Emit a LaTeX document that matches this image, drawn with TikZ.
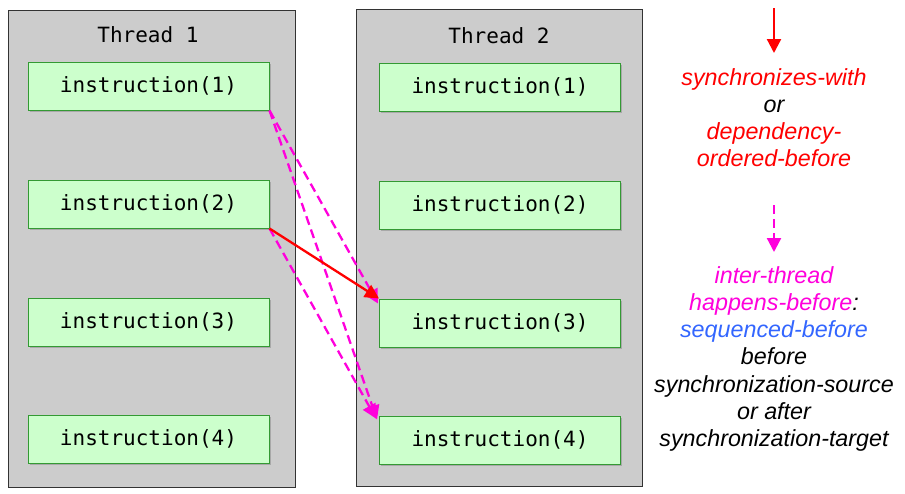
\documentclass[tikz,border=0pt]{standalone}
\usepackage{fontspec}
\setmainfont{Liberation Sans}
\newfontfamily\codefont{DejaVu Sans Mono}
\usetikzlibrary{arrows.meta,shadows}
\definecolor{thrfill}{RGB}{204,204,204}
\definecolor{insfill}{RGB}{204,255,204}
\definecolor{insdraw}{RGB}{51,153,51}
\definecolor{mag}{RGB}{255,0,220}
\definecolor{sbblue}{RGB}{51,102,255}
\definecolor{synred}{RGB}{255,0,0}
\tikzset{
  thread/.style={draw=black!80, fill=thrfill, line width=0.8pt},
  instr/.style={draw=insdraw, fill=insfill, line width=1pt, minimum width=241pt, minimum height=48pt,
     font=\codefont\fontsize{21}{24}\selectfont, inner sep=0pt,
     drop shadow={shadow xshift=1.5pt, shadow yshift=-1.5pt, opacity=0.35, fill=black!60}},
  ttl/.style={font=\codefont\fontsize{21}{24}\selectfont},
  synarrow/.style={draw=synred, line width=2.3pt, -{Triangle[width=14pt,length=14pt]}},
  ithb/.style={draw=mag, line width=2.3pt, dash pattern=on 9pt off 5pt, -{Triangle[width=14pt,length=14pt]}},
  legend/.style={align=center, inner sep=0pt, font=\itshape\fontsize{23.3}{27.3}\selectfont}
}
\begin{document}
\begin{tikzpicture}[x=1pt,y=-1pt]
\useasboundingbox (0,0) rectangle (905,493);
% thread boxes
\node[thread, minimum width=287pt, minimum height=477pt, anchor=north west, inner sep=0pt] (t1) at (8,10) {};
\node[thread, minimum width=286pt, minimum height=477pt, anchor=north west, inner sep=0pt] (t2) at (356,9) {};
\node[ttl] (t1title) at (148,35) {Thread 1};
\node[ttl] (t2title) at (499,36) {Thread 2};
% instructions thread 1
\node[instr] (a1) at (148.5,86) {instruction(1)};
\node[instr] (a2) at (148.5,204) {instruction(2)};
\node[instr] (a3) at (148.5,322) {instruction(3)};
\node[instr] (a4) at (148.5,439) {instruction(4)};
% instructions thread 2
\node[instr] (b1) at (500,87) {instruction(1)};
\node[instr] (b2) at (500,205) {instruction(2)};
\node[instr] (b3) at (500,323) {instruction(3)};
\node[instr] (b4) at (500,440) {instruction(4)};
% connectors
\draw[ithb] (a1.south east) -- ([xshift=-1pt,yshift=-5pt]b3.north west);
\draw[ithb] (a1.south east) -- ([xshift=-2pt,yshift=-4pt]b4.north west);
\draw[ithb] (a2.south east) -- ([xshift=-3pt,yshift=-3pt]b4.north west);
\draw[synarrow] (a2.south east) -- (b3.north west);
% legend
\coordinate (r0) at (774,8);
\coordinate (r1) at (774,53);
\draw[synarrow] (r0) -- (r1);
\node[legend, anchor=north] (l1) at (774,68) {\color{synred}synchronizes-with\\ or\\ \color{synred}dependency-\\ \color{synred}ordered-before};
\coordinate (m0) at (774,205);
\coordinate (m1) at (774,252);
\draw[ithb] (m0) -- (m1);
\node[legend, anchor=north] (l2) at (774,266) {\color{mag}inter-thread\\ \color{mag}happens-before\color{black}:\\ \color{sbblue}sequenced-before\\ before\\ synchronization-source\\ or after\\ synchronization-target};
\end{tikzpicture}
\end{document}
